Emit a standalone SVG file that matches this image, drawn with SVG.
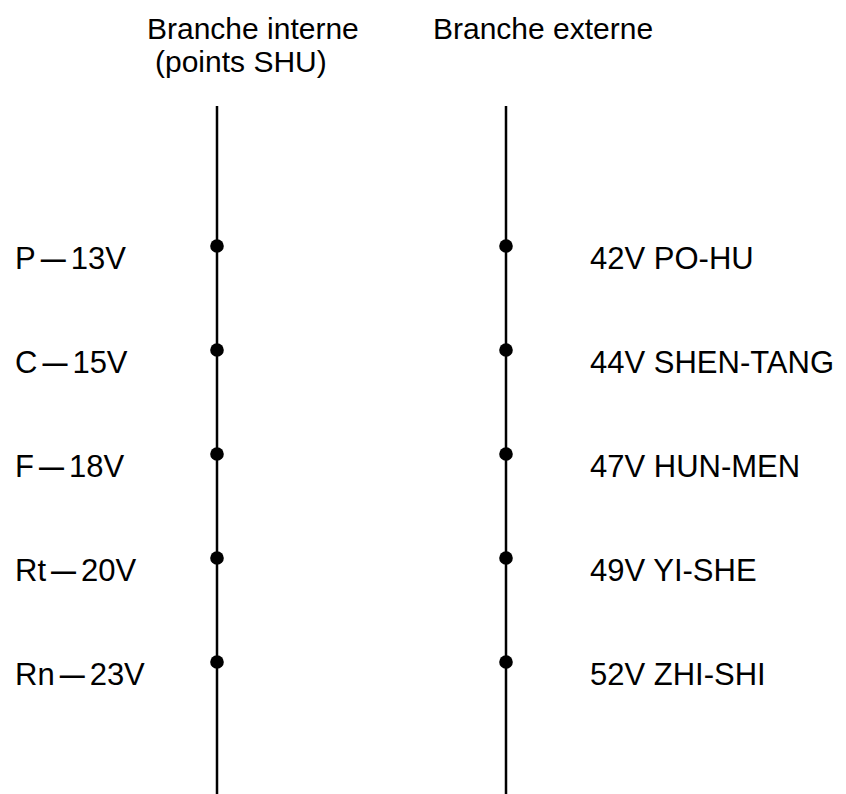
<svg xmlns="http://www.w3.org/2000/svg" width="846" height="794" viewBox="0 0 846 794">
<style>
text{font-family:"Liberation Sans",Arial,Helvetica,sans-serif;font-size:31px;fill:#000}
text.h{font-size:30px}
.d{font-size:25px;font-weight:bold}
.ln{stroke:#000;stroke-width:2.5;fill:none}
.dot{fill:#000}
</style>
<rect width="846" height="794" fill="#fff"/>
<g id="headings">
<text class="h" x="147" y="39">Branche interne</text>
<text class="h" x="155" y="72">(points SHU)</text>
<text class="h" x="433" y="39">Branche externe</text>
</g>
<g id="connectors">
<line class="ln" x1="217" y1="106" x2="217" y2="794"/>
<line class="ln" x1="506" y1="106" x2="506" y2="794"/>
</g>
<g id="internal">
<g id="p13"><circle class="dot" cx="217" cy="246" r="6.8"/><text x="15" y="269">P<tspan class="d" dx="5" dy="-1.5">—</tspan><tspan dx="5" dy="1.5">13V</tspan></text></g>
<g id="c15"><circle class="dot" cx="217" cy="350" r="6.8"/><text x="15" y="373">C<tspan class="d" dx="5" dy="-1.5">—</tspan><tspan dx="5" dy="1.5">15V</tspan></text></g>
<g id="f18"><circle class="dot" cx="217" cy="454" r="6.8"/><text x="15" y="477">F<tspan class="d" dx="5" dy="-1.5">—</tspan><tspan dx="5" dy="1.5">18V</tspan></text></g>
<g id="rt20"><circle class="dot" cx="217" cy="558" r="6.8"/><text x="15" y="581">Rt<tspan class="d" dx="5" dy="-1.5">—</tspan><tspan dx="5" dy="1.5">20V</tspan></text></g>
<g id="rn23"><circle class="dot" cx="217" cy="662" r="6.8"/><text x="15" y="685">Rn<tspan class="d" dx="5" dy="-1.5">—</tspan><tspan dx="5" dy="1.5">23V</tspan></text></g>
</g>
<g id="external">
<g id="v42"><circle class="dot" cx="506" cy="246" r="6.8"/><text x="590" y="269">42V PO-HU</text></g>
<g id="v44"><circle class="dot" cx="506" cy="350" r="6.8"/><text x="590" y="373">44V SHEN-TANG</text></g>
<g id="v47"><circle class="dot" cx="506" cy="454" r="6.8"/><text x="590" y="477">47V HUN-MEN</text></g>
<g id="v49"><circle class="dot" cx="506" cy="558" r="6.8"/><text x="590" y="581">49V YI-SHE</text></g>
<g id="v52"><circle class="dot" cx="506" cy="662" r="6.8"/><text x="590" y="685">52V ZHI-SHI</text></g>
</g>
</svg>
